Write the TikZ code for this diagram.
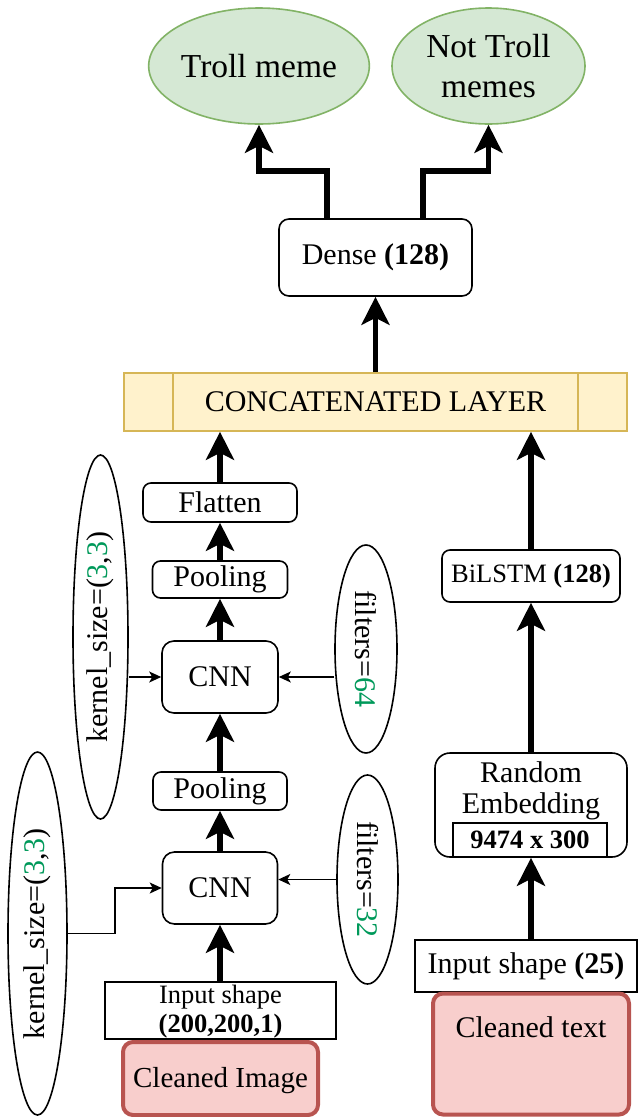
\documentclass[tikz,border=0pt]{standalone}
\usepackage{fontspec}
\setmainfont{Liberation Serif}
\usetikzlibrary{arrows.meta,shapes.geometric}
\definecolor{gfill}{HTML}{D5E8D4}
\definecolor{gstroke}{HTML}{82B366}
\definecolor{yfill}{HTML}{FFF2CC}
\definecolor{ystroke}{HTML}{D6B656}
\definecolor{rfill}{HTML}{F8CECC}
\definecolor{rstroke}{HTML}{B85450}
\definecolor{numgreen}{HTML}{00995A}
\newcommand\fsmain{\fontsize{30}{34}\selectfont}
\newcommand\fsbig{\fontsize{33.5}{40}\selectfont}
\newcommand\fssmall{\fontsize{26.5}{29}\selectfont}
\tikzset{
  box/.style={draw, rounded corners=8pt, line width=1.6pt, fill=white, inner sep=0pt, font=\fsmain},
  plainbox/.style={draw, line width=1.6pt, fill=white, inner sep=0pt, font=\fsmain},
  outell/.style={ellipse, draw=gstroke, fill=gfill, line width=1.6pt, inner sep=0pt, font=\fsbig, align=center},
  parell/.style={ellipse, draw, line width=1.6pt, inner sep=0pt, font=\fsmain},
  srcbox/.style={draw=rstroke, fill=rfill, line width=4pt, rounded corners=10pt, inner sep=0pt},
  arr/.style={line width=5.5pt, -{Stealth[length=28pt,width=28pt,inset=7pt]}},
  thinarr/.style={line width=1.6pt, -{Stealth[length=12pt,width=11pt,inset=3pt]}},
  txt/.style={inner sep=0pt, anchor=base}
}
\begin{document}
\begin{tikzpicture}[x=1pt,y=-1pt]
\useasboundingbox (0,0) rectangle (638,1117);

% outputs
\node[outell, minimum width=192pt, minimum height=116pt] (troll) at (259,66) {Troll meme};
\node[outell, minimum width=193pt, minimum height=116pt] (nottroll) at (488.5,66) {Not Troll\\memes};

% dense
\node[box, rounded corners=10pt, minimum width=193pt, minimum height=77pt] (dense) at (375.5,257.5) {Dense \textbf{(128)}};

% concat
\node[draw=ystroke, fill=yfill, line width=1.6pt, inner sep=0pt, minimum width=503pt, minimum height=58pt, font=\fsmain] (concat) at (375.5,402) {CONCATENATED LAYER};
\draw[draw=ystroke, line width=1.6pt] ([xshift=50pt]concat.north west) -- ([xshift=50pt]concat.south west);
\draw[draw=ystroke, line width=1.6pt] ([xshift=-50pt]concat.north east) -- ([xshift=-50pt]concat.south east);

% left column
\node[box, minimum width=154pt, minimum height=39pt] (flatten) at (220,502.5) {Flatten};
\node[box, minimum width=135pt, minimum height=37pt] (pool1) at (220,579.5) {Pooling};
\node[box, rounded corners=12pt, minimum width=116pt, minimum height=72pt] (cnn1) at (220,677) {CNN};
\node[box, minimum width=134pt, minimum height=38pt] (pool2) at (220,791) {Pooling};
\node[box, rounded corners=12pt, minimum width=115pt, minimum height=72pt] (cnn2) at (220,888) {CNN};
\node[plainbox, minimum width=231pt, minimum height=57pt] (inp1) at (220.5,1010.5) {};
\node[txt, font=\fssmall] (inp1a) at (220.5,1003) {Input shape};
\node[txt, font=\fssmall] (inp1b) at (220.5,1032) {\textbf{(200,200,1)}};
\node[srcbox, minimum width=195pt, minimum height=73pt] (img) at (220.5,1078.5) {};
\node[txt, font=\fontsize{29}{33}\selectfont] (imgt) at (220.5,1087) {Cleaned Image};

% parameter ellipses
\node[parell, minimum width=55pt, minimum height=364pt] (kern1) at (100.5,637) {\rotatebox{90}{kernel\_size=(\textcolor{numgreen}{3},\textcolor{numgreen}{3})}};
\node[parell, minimum width=62pt, minimum height=208pt] (filt1) at (366,649) {\rotatebox{-90}{filters=\textcolor{numgreen}{64}}};
\node[parell, minimum width=59pt, minimum height=363pt] (kern2) at (37.5,933.5) {\rotatebox{90}{kernel\_size=(\textcolor{numgreen}{3},\textcolor{numgreen}{3})}};
\node[parell, minimum width=61pt, minimum height=209pt] (filt2) at (367.5,879.5) {\rotatebox{-90}{filters=\textcolor{numgreen}{32}}};

% right column
\node[box, minimum width=178pt, minimum height=52pt, font=\fssmall] (bilstm) at (531,576) {BiLSTM \textbf{(128)}};
\node[box, rounded corners=15pt, minimum width=192pt, minimum height=104pt] (emb) at (531,805) {};
\node[txt, font=\fsmain] (embt1) at (531,782) {Random};
\node[txt, font=\fsmain] (embt2) at (531,813) {Embedding};
\node[plainbox, minimum width=154pt, minimum height=34pt, font=\fssmall] (embdim) at (530,840) {\textbf{9474 x 300}};
\node[plainbox, minimum width=222pt, minimum height=52pt] (inp2) at (526,966) {Input shape \textbf{(25)}};
\node[srcbox, minimum width=196pt, minimum height=121pt] (txtsrc) at (531,1054) {};
\node[txt, font=\fsmain] (txtt) at (531,1037) {Cleaned text};

% thick arrows
\draw[arr] ([xshift=-48.5pt]dense.north) -- ++(0,-47) -| (troll.south);
\draw[arr] ([xshift=47.5pt]dense.north) -- ++(0,-47) -| (nottroll.south);
\draw[arr] (concat.north) -- (dense.south);
\draw[arr] (flatten.north) -- (flatten.north |- concat.south);
\draw[arr] (pool1.north) -- (flatten.south);
\draw[arr] (cnn1.north) -- (pool1.south);
\draw[arr] (pool2.north) -- (cnn1.south);
\draw[arr] (cnn2.north) -- (pool2.south);
\draw[arr] (inp1.north -| cnn2.south) -- (cnn2.south);
\draw[arr] (bilstm.north) -- (bilstm.north |- concat.south);
\draw[arr] (emb.north) -- (bilstm.south);
\draw[arr] (inp2.north -| emb.south) -- (emb.south);

% thin arrows
\coordinate (kbend) at (115,0);
\draw[thinarr] (cnn1.west -| kern1.east) -- (cnn1.west);
\draw[thinarr] (cnn1.east -| filt1.west) -- (cnn1.east);
\draw[thinarr] (kern2.east) -| (kbend |- cnn2.west) -- (cnn2.west);
\draw[thinarr] (filt2.west) -- (filt2.west -| cnn2.east);
\end{tikzpicture}
\end{document}
